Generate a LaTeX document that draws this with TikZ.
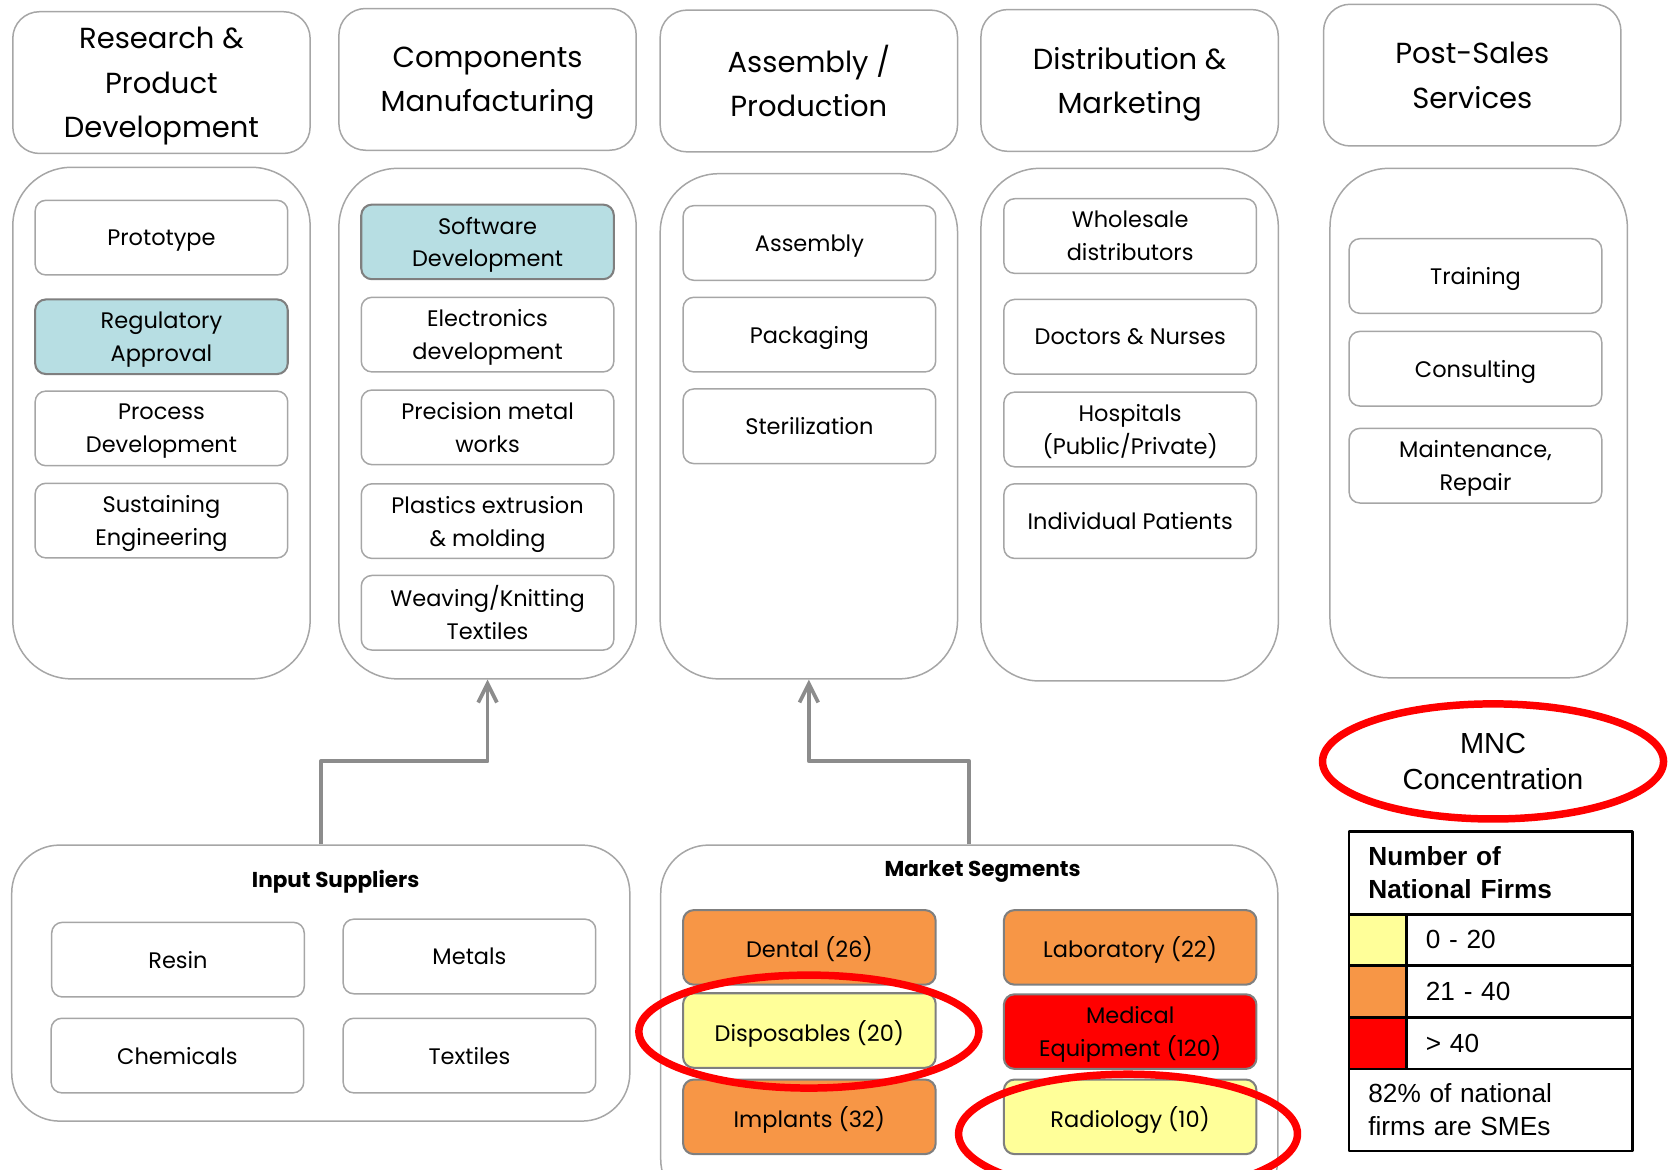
\documentclass[tikz,border=0pt]{standalone}
\usepackage{fontspec}
\setmainfont{Poppins}
\newfontfamily\arialfont{Liberation Sans}
\usetikzlibrary{positioning,arrows.meta,shapes.geometric}
\definecolor{hilite}{HTML}{B7DEE3}
\definecolor{lowfirms}{HTML}{FFFF99}
\definecolor{midfirms}{HTML}{F79646}
\definecolor{highfirms}{HTML}{FF0000}
\definecolor{boxline}{HTML}{A6A6A6}
\definecolor{tintline}{HTML}{7F7F7F}
\definecolor{arrowgray}{HTML}{8C8C8C}
\def\u{0.02cm}
\tikzset{
	head/.style={draw=boxline, line width=0.8pt, rounded corners=0.5cm, minimum width=279*\u, minimum height=133*\u, align=center, text depth=-2.6pt, font=\fontsize{15.5}{23.8}\selectfont},
	column/.style={draw=boxline, line width=0.8pt, rounded corners=1.1cm, minimum width=279*\u},
	item/.style={draw=boxline, line width=0.8pt, rounded corners=0.2cm, minimum width=237*\u, minimum height=70*\u, inner sep=0pt, align=center, text depth=-2pt, font=\fontsize{12}{17.6}\selectfont},
	tinted/.style={item, fill=#1, draw=tintline, line width=1.1pt},
	group/.style={draw=boxline, line width=0.8pt, rounded corners=0.9cm},
	title/.style={font=\bfseries\fontsize{11.5}{14}\selectfont},
	flow/.style={draw=arrowgray, line width=2pt, ->},
	ring/.style={ellipse, draw=highfirms, line width=4pt, inner sep=0pt},
	legcell/.style={draw=black, line width=1.4pt, inner sep=0pt, font=\arialfont\fontsize{14}{17.5}\selectfont}
}
\begin{document}
\begin{tikzpicture}[x=\u, y=-\u, line join=round, >={Straight Barb[length=10pt,width=10pt]}]
	\useasboundingbox (0,0) rectangle (1568,1097);
	% stage headers
	\foreach \n/\x/\y/\t in {hRD/151.5/77.5/{Research \&\\Product\\Development},hCM/457.5/74.5/{Components\\Manufacturing},hAP/759/76/{Assembly /\\Production},hDM/1060/75.5/{Distribution \&\\Marketing},hPS/1381.5/70.5/{Post-Sales\\Services}}{
		\node[head] (\n) at (\x,\y) {\t};
	}
	\foreach \n/\x/\y/\h in {cRD/151.5/397/480,cCM/457.5/397.5/479,cAP/759/400/474,cDM/1060/398.5/481,cPS/1387.5/397/478}{
		\node[column, minimum height=\h*\u] (\n) at (\x,\y) {};
	}
	% research
	\foreach \n/\y/\t in {rdProto/223/Prototype,rdProc/402/{Process\\Development},rdSust/488.5/{Sustaining\\Engineering}}{
		\node[item] (\n) at (151.5,\y) {\t};
	}
	\node[tinted=hilite] (rdReg) at (151.5,316) {Regulatory\\Approval};
	% components
	\node[tinted=hilite] (cmSoft) at (457.5,227) {Software\\Development};
	\foreach \n/\y/\t in {cmElec/314/{Electronics\\development},cmMetal/401/{Precision metal\\works},cmPlas/489/{Plastics extrusion\\\& molding},cmTex/575/{Weaving/Knitting\\Textiles}}{
		\node[item] (\n) at (457.5,\y) {\t};
	}
	% assembly
	\foreach \n/\y/\t in {apAsm/228/Assembly,apPack/314/Packaging,apSter/400/Sterilization}{
		\node[item] (\n) at (759.5,\y) {\t};
	}
	% distribution
	\foreach \n/\y/\t in {dmWhole/221.5/{Wholesale\\distributors},dmDoc/316/{Doctors \& Nurses},dmHosp/403/{Hospitals\\(Public/Private)},dmPat/489/Individual Patients}{
		\node[item] (\n) at (1060.5,\y) {\t};
	}
	% post-sales
	\foreach \n/\y/\t in {psTrain/259/Training,psCons/346/Consulting,psMaint/437/{Maintenance,\\Repair}}{
		\node[item] (\n) at (1384.5,\y) {\t};
	}
	% input suppliers
	\node[group, minimum width=580*\u, minimum height=259*\u] (inSup) at (301,922.5) {};
	\node[title] (inSupT) at (315,827) {Input Suppliers};
	\foreach \n/\x/\y/\t in {isResin/167/900.5/Resin,isMetal/440.5/897.5/Metals,isChem/166.5/990.5/Chemicals,isTex/440.5/990.5/Textiles}{
		\node[item] (\n) at (\x,\y) {\t};
	}
	% market segments
	\node[group, minimum width=579*\u, minimum height=340*\u] (mktSeg) at (909.5,963) {};
	\node[title] (mktSegT) at (922,818) {Market Segments};
	\foreach \n/\x/\y/\c/\t in {msDent/759.5/889/midfirms/Dental (26),msDisp/759.5/967/lowfirms/Disposables (20),msImpl/759.5/1048/midfirms/Implants (32),msLab/1060.5/889/midfirms/Laboratory (22),msMed/1060.5/968/highfirms/{Medical\\Equipment (120)},msRad/1060.5/1048/lowfirms/Radiology (10)}{
		\node[tinted=\c] (\n) at (\x,\y) {\t};
	}
	\draw[flow] (inSup.north) -- ++(0,-78) -| (cCM.south);
	\draw[flow] (mktSeg.north) -- ++(0,-78) -| (cAP.south);
	% MNC rings
	\node[ring, minimum width=319*\u, minimum height=106*\u] (ringDisp) at (759,968) {};
	\node[ring, minimum width=318*\u, minimum height=112*\u] (ringRad) at (1058.5,1064) {};
	\node[ring, minimum width=320*\u, minimum height=108*\u, align=center, font=\arialfont\fontsize{15.5}{19.5}\selectfont] (mnc) at (1401,714.5) {MNC\\Concentration};
	% legend
	\node[legcell, minimum width=266*\u, minimum height=78*\u, text width=230*\u, align=left, font=\arialfont\bfseries\fontsize{14}{17.5}\selectfont] (legHead) at (1399,819) {Number of\\National Firms};
	\foreach \n/\y/\c/\t in {legLow/882/lowfirms/0 - 20,legMid/930.5/midfirms/21 - 40,legHigh/979/highfirms/{> 40}}{
		\node[legcell, fill=\c, minimum width=54*\u, minimum height=48*\u] (\n) at (1293,\y) {};
		\node[legcell, minimum width=212*\u, minimum height=48*\u, text width=176*\u, align=left] (\n-t) at (1426,\y) {\t};
	}
	\node[legcell, minimum width=266*\u, minimum height=77*\u, text width=230*\u, align=left] (legFoot) at (1399,1041.5) {82\% of national\\firms are SMEs};
\end{tikzpicture}
\end{document}
